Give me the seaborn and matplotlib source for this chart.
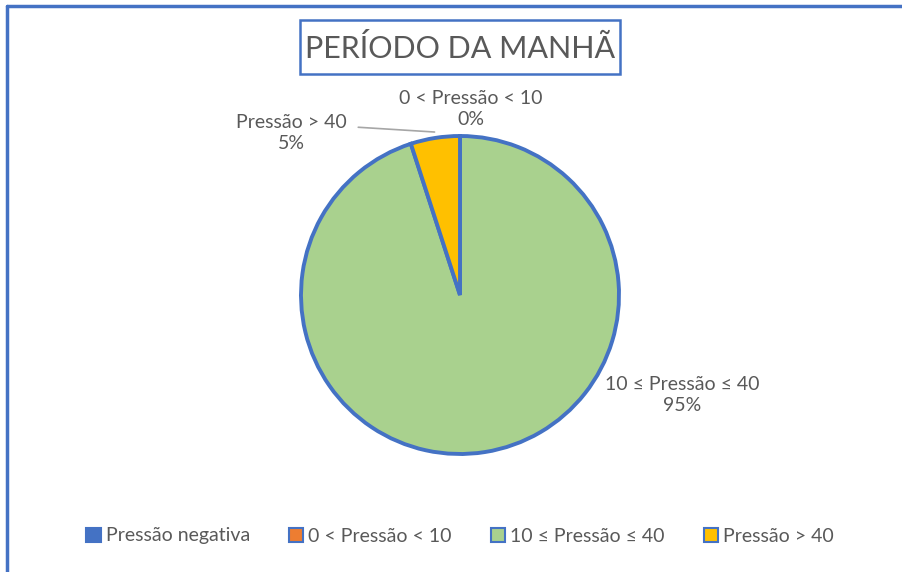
import matplotlib
matplotlib.use("Agg")
import matplotlib.pyplot as plt
from matplotlib.patches import Patch, Rectangle
from matplotlib.lines import Line2D
import seaborn as sns

# Pressure classes and their share of morning readings (%)
categories = ["Pressão negativa", "0 < Pressão < 10", "10 ≤ Pressão ≤ 40", "Pressão > 40"]
shares = [0, 0, 95, 5]
title = "PERÍODO DA MANHÃ"

sns.set_theme(style="white")
plt.rcParams["font.family"] = ["Lato", "DejaVu Sans"]

blue = "#4472C4"
palette = [blue, "#ED7D31", "#A9D18E", "#FFC000"]
text_grey = "#595959"

fig = plt.figure(figsize=(9.02, 5.72), dpi=100)
fig.patch.set_facecolor("white")

# pie axes: centre ~ (460, 295) px, radius ~159 px
W, H = 902, 572
cx, cy, r = 460, 295, 159
ax = fig.add_axes([(cx - r) / W, (H - cy - r) / H, 2 * r / W, 2 * r / H])
ax.pie(shares, colors=palette, startangle=90, counterclock=False,
       wedgeprops=dict(edgecolor=blue, linewidth=2.8))
ax.set_xlim(-1, 1)
ax.set_ylim(-1, 1)
ax.set_aspect("equal")
ax.axis("off")

def pct(v):
    return f"{v:.0f}%"

lab_fs = 14
ax.text(0.07, 1.17, f"{categories[1]}\n{pct(shares[1])}", ha="center", va="center",
        fontsize=lab_fs, color=text_grey, linespacing=1.25)
ax.text(-1.06, 1.02, f"{categories[3]}\n{pct(shares[3])}", ha="center", va="center",
        fontsize=lab_fs, color=text_grey, linespacing=1.25)
ax.text(1.40, -0.63, f"{categories[2]}\n{pct(shares[2])}", ha="center", va="center",
        fontsize=lab_fs, color=text_grey, linespacing=1.25)
ax.add_line(Line2D([-0.64, -0.16], [1.055, 1.025], color="#A6A6A6", lw=1.2,
                   clip_on=False))

# title in a framed box
fig.add_artist(Rectangle((300 / W, 1 - 74 / H), 320 / W, 54 / H,
                         transform=fig.transFigure, facecolor="white",
                         edgecolor=blue, linewidth=1.8))
fig.text(cx / W, 1 - 48 / H, title, ha="center", va="center", fontsize=22,
         color=text_grey)

# legend along the bottom
handles = [Patch(facecolor=c, edgecolor=blue, linewidth=1.5) for c in palette]
leg = fig.legend(handles, categories, loc="center", ncol=4,
                 bbox_to_anchor=(0.51, 1 - 536 / H), frameon=False,
                 fontsize=14, handlelength=0.75, handleheight=0.75,
                 handletextpad=0.25, columnspacing=2.0)
for t in leg.get_texts():
    t.set_color(text_grey)

# chart area border (left and top edges)
fig.add_artist(Line2D([7 / W, 7 / W], [0, 1 - 6 / H], color=blue, lw=2.5,
                      transform=fig.transFigure))
fig.add_artist(Line2D([7 / W, 1], [1 - 6 / H, 1 - 6 / H], color=blue, lw=2.5,
                      transform=fig.transFigure))

fig.savefig("out.png", dpi=100, facecolor="white")
